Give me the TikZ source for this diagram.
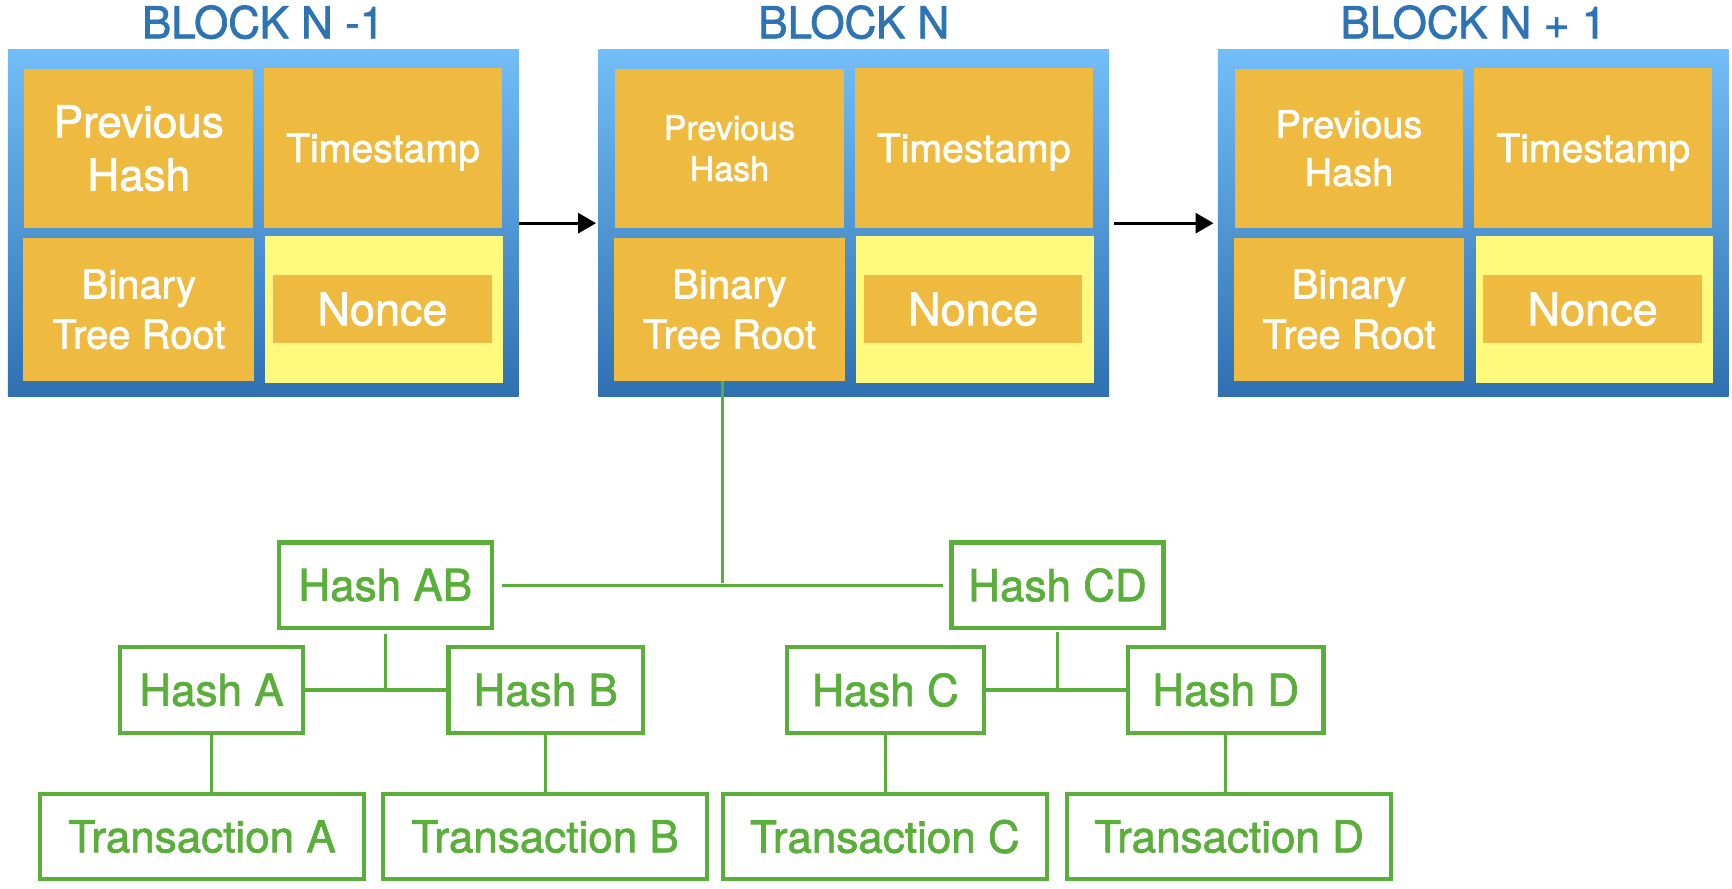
\documentclass[tikz,border=0pt]{standalone}
\usepackage{fontspec}
\setmainfont{TeX Gyre Heros}[FakeBold=1.6]
\usetikzlibrary{arrows.meta}

\definecolor{titleblue}{HTML}{2E74B5}
\definecolor{skyblue}{HTML}{72BEF8}
\definecolor{deepblue}{HTML}{2F70B0}
\definecolor{cellorange}{HTML}{EEBB40}
\definecolor{nonceyellow}{HTML}{FFFA7D}
\definecolor{treegreen}{HTML}{5AAF3B}

\tikzset{
  blk/.style={inner sep=0pt, minimum width=255.3pt, minimum height=173.2pt,
    top color=skyblue, bottom color=deepblue},
  ttl/.style={text=titleblue, inner sep=0pt, font=\fontsize{22}{26}\selectfont},
  cell/.style={fill=cellorange, text=white, inner sep=0pt, align=center},
  prevcell/.style={cell, minimum width=114.3pt, minimum height=79.4pt},
  timecell/.style={cell, minimum width=118.8pt, minimum height=79.9pt, text depth=0pt,
    font=\fontsize{19.6}{24}\selectfont},
  rootcell/.style={cell, minimum width=115.4pt, minimum height=71.6pt,
    font=\fontsize{20}{25}\selectfont},
  noncecell/.style={fill=nonceyellow, inner sep=0pt, minimum width=118.8pt, minimum height=73.3pt},
  noncebox/.style={cell, minimum width=109.3pt, minimum height=33.9pt,
    font=\fontsize{22.5}{27}\selectfont},
  hashbox/.style={draw=treegreen, line width=2.1pt, text=treegreen, inner sep=0pt,
    minimum height=42.7pt, font=\fontsize{22}{26}\selectfont},
  link/.style={draw=treegreen, line width=1.6pt},
}

\begin{document}
\begin{tikzpicture}[x=0.555pt, y=-0.555pt]
  \useasboundingbox (0,0) rectangle (1560,800);

  \node[blk] (blkprev) at (237,201) {};
  \node[ttl] (ttlprev) at (237,20) {BLOCK N -1};
  \node[prevcell, font=\fontsize{22}{26.6}\selectfont] (phprev) at (125,133.5) {Previous\\Hash};
  \node[timecell] (tsprev) at (345,133) {Timestamp};
  \node[rootcell] (btrprev) at (125,278.5) {Binary\\Tree Root};
  \node[noncecell] (ncprev) at (346,279) {};
  \node[noncebox] (nonceprev) at (344.5,278.5) {Nonce};

  \node[blk] (blkcur) at (769,201) {};
  \node[ttl] (ttlcur) at (769,20) {BLOCK N};
  \node[prevcell, font=\fontsize{17}{20.5}\selectfont] (phcur) at (657,133.5) {Previous\\Hash};
  \node[timecell] (tscur) at (877,133) {Timestamp};
  \node[rootcell] (btrcur) at (657,278.5) {Binary\\Tree Root};
  \node[noncecell] (nccur) at (878,279) {};
  \node[noncebox] (noncecur) at (876.5,278.5) {Nonce};

  \node[blk] (blknext) at (1327,201) {};
  \node[ttl] (ttlnext) at (1327,20) {BLOCK N + 1};
  \node[prevcell, font=\fontsize{19}{24}\selectfont] (phnext) at (1215,133.5) {Previous\\Hash};
  \node[timecell] (tsnext) at (1435,133) {Timestamp};
  \node[rootcell] (btrnext) at (1215,278.5) {Binary\\Tree Root};
  \node[noncecell] (ncnext) at (1436,279) {};
  \node[noncebox] (noncenext) at (1434.5,278.5) {Nonce};

  \draw[line width=1.6pt, -{Triangle[length=9pt,width=10pt]}, shorten >=1pt] (blkprev.east) -- (blkcur.west);
  \draw[line width=1.6pt, -{Triangle[length=9pt,width=10pt]}] ([xshift=2pt]blkcur.east) -- ([xshift=-2pt]blknext.west);

  \node[hashbox, minimum width=106.6pt] (hashAB) at (347,527) {Hash AB};
  \node[hashbox, minimum width=106pt] (hashCD) at (952.5,527) {Hash CD};
  \node[hashbox, minimum width=91.6pt] (hashA) at (190.5,621.5) {Hash A};
  \node[hashbox, minimum width=97.1pt] (hashB) at (491.5,621.5) {Hash B};
  \node[hashbox, minimum width=98.2pt] (hashC) at (797.5,621.5) {Hash C};
  \node[hashbox, minimum width=97.7pt] (hashD) at (1104,621.5) {Hash D};
  \node[hashbox, minimum width=162.1pt] (transA) at (182,753.5) {Transaction A};
  \node[hashbox, minimum width=162.1pt] (transB) at (491,753.5) {Transaction B};
  \node[hashbox, minimum width=162.1pt] (transC) at (797,753.5) {Transaction C};
  \node[hashbox, minimum width=162.1pt] (transD) at (1107,753.5) {Transaction D};

  \coordinate (rootj) at (651,525);
  \draw[link] (btrcur.south -| rootj) -- (rootj);
  \draw[link] ([xshift=4pt]hashAB.east) -- ([xshift=-3pt]hashCD.west);
  \draw[link] ([yshift=-2pt]hashAB.south) -- (hashAB.south |- hashA.east);
  \draw[link] (hashA.east) -- (hashB.west);
  \draw[link] ([yshift=-1pt]hashCD.south) -- (hashCD.south |- hashC.east);
  \draw[link] (hashC.east) -- (hashD.west);
  \draw[link] (hashA.south) -- (hashA.south |- transA.north);
  \draw[link] (hashB.south) -- (hashB.south |- transB.north);
  \draw[link] (hashC.south) -- (hashC.south |- transC.north);
  \draw[link] (hashD.south) -- (hashD.south |- transD.north);
\end{tikzpicture}
\end{document}
